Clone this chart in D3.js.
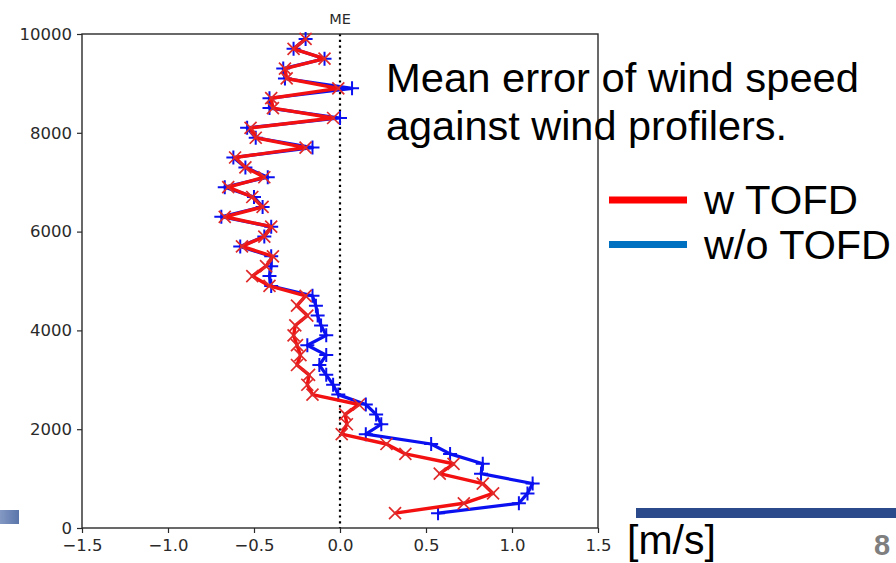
<!DOCTYPE html>
<html>
<head>
<meta charset="utf-8">
<script src="https://cdn.jsdelivr.net/npm/d3@7"></script>
<style>
  body { margin: 0; background: #fff; }
  svg { display: block; }
</style>
</head>
<body>
<svg id="chart" width="896" height="563"></svg>
<script>
// ---- data ----
const heights = [300,500,700,900,1100,1300,1500,1700,1900,2100,2300,2500,2700,2900,3100,3300,3500,3700,3900,4100,4300,4500,4700,4900,5100,5300,5500,5700,5900,6100,6300,6500,6700,6900,7100,7300,7500,7700,7900,8100,8300,8500,8700,8900,9100,9300,9500,9700,9900];
const withTOFD = [0.32,0.72,0.89,0.83,0.58,0.66,0.38,0.27,0.01,0.04,0.03,0.11,-0.16,-0.19,-0.18,-0.25,-0.23,-0.25,-0.27,-0.26,-0.19,-0.25,-0.20,-0.41,-0.51,-0.43,-0.39,-0.57,-0.44,-0.40,-0.67,-0.45,-0.51,-0.65,-0.44,-0.55,-0.61,-0.20,-0.49,-0.52,-0.04,-0.39,-0.40,-0.01,-0.31,-0.32,-0.09,-0.27,-0.20];
const withoutTOFD = [0.57,1.04,1.09,1.12,0.82,0.83,0.64,0.53,0.15,0.24,0.21,0.15,-0.01,-0.04,-0.08,-0.12,-0.08,-0.19,-0.08,-0.11,-0.13,-0.14,-0.16,-0.40,-0.41,-0.40,-0.40,-0.58,-0.44,-0.40,-0.69,-0.45,-0.50,-0.67,-0.42,-0.55,-0.62,-0.16,-0.49,-0.54,0.00,-0.41,-0.41,0.07,-0.32,-0.33,-0.09,-0.27,-0.20];
const xTicks = [-1.5,-1.0,-0.5,0.0,0.5,1.0,1.5];
const yTicks = [0,2000,4000,6000,8000,10000];
const seriesNames = ["w TOFD","w/o TOFD"];
const titleText = "ME";
const noteLines = ["Mean error of wind speed","against wind profilers."];
const unitText = "[m/s]";
const pageNumber = "8";

// ---- layout ----
const svg = d3.select("#chart");
const L = 82, R = 598, T = 34, B = 528;
const x = d3.scaleLinear().domain([-1.5,1.5]).range([L,R]);
const y = d3.scaleLinear().domain([0,10000]).range([B,T]);
const mplFont = "'DejaVu Sans', sans-serif";
const fmtX = d => (d < 0 ? "\u2212" : "") + Math.abs(d).toFixed(1);

// slide decorations
const grad = svg.append("defs").append("linearGradient").attr("id","lg").attr("x1","0").attr("x2","1");
grad.append("stop").attr("offset","0").attr("stop-color","#8499c4");
grad.append("stop").attr("offset","1").attr("stop-color","#5a75aa");
svg.append("rect").attr("x",0).attr("y",510).attr("width",19).attr("height",14).attr("fill","url(#lg)");
svg.append("rect").attr("x",636).attr("y",508).attr("width",260).attr("height",10).attr("fill","#2b4a8c");

// axes
const gx = svg.append("g").attr("transform",`translate(0,${B})`)
  .call(d3.axisBottom(x).tickValues(xTicks).tickFormat(fmtX).tickSizeOuter(0).tickSize(5).tickPadding(4));
const gy = svg.append("g").attr("transform",`translate(${L},0)`)
  .call(d3.axisLeft(y).tickValues(yTicks).tickFormat(d3.format("d")).tickSizeOuter(0).tickSize(5).tickPadding(5));
[gx,gy].forEach(g => {
  g.select(".domain").remove();
  g.selectAll("text").attr("font-family",mplFont).attr("font-size",16.5).attr("fill","#2a2a2a");
  g.selectAll("line").attr("stroke","#2a2a2a").attr("stroke-width",1.2);
});
gx.selectAll("text").attr("dy","0.85em");

// zero line
svg.append("line").attr("x1",x(0)).attr("x2",x(0)).attr("y1",T).attr("y2",B)
  .attr("stroke","#000").attr("stroke-width",2.2).attr("stroke-dasharray","2.2,3.6");

// frame
svg.append("rect").attr("x",L).attr("y",T).attr("width",R-L).attr("height",B-T)
  .attr("fill","none").attr("stroke","#2a2a2a").attr("stroke-width",1.4);

// title
svg.append("text").attr("x",x(0)).attr("y",24).attr("text-anchor","middle")
  .attr("font-family",mplFont).attr("font-size",14.5).attr("fill","#2a2a2a").text(titleText);

const line = d3.line().x(d => x(d[0])).y(d => y(d[1]));
const blueData = withoutTOFD.map((v,i) => [v, heights[i]]);
const redData = withTOFD.map((v,i) => [v, heights[i]]);

// blue: w/o TOFD
svg.append("path").datum(blueData).attr("d",line).attr("fill","none")
  .attr("stroke","#0a10f0").attr("stroke-width",3.2).attr("stroke-linejoin","round");
svg.append("g").selectAll("path").data(blueData).join("path")
  .attr("transform",d => `translate(${x(d[0])},${y(d[1])})`)
  .attr("d","M-7,0H7M0,-7V7").attr("stroke","#0a10f0").attr("stroke-width",2);

// red: w TOFD
svg.append("path").datum(redData).attr("d",line).attr("fill","none")
  .attr("stroke","#f31010").attr("stroke-width",3.4).attr("stroke-linejoin","round");
svg.append("g").selectAll("path").data(redData).join("path")
  .attr("transform",d => `translate(${x(d[0])},${y(d[1])})`)
  .attr("d","M-6,-6L6,6M-6,6L6,-6").attr("stroke","#e02a2a").attr("stroke-width",1.7);

// annotation text
const sans = "'Liberation Sans', Arial, sans-serif";
const noteWidths = [473, 401];
svg.append("g").selectAll("text").data(noteLines).join("text")
  .attr("x",386).attr("y",(d,i) => 92 + i*48)
  .attr("font-family",sans).attr("font-size",40).attr("fill","#000")
  .attr("textLength",(d,i) => noteWidths[i]).attr("lengthAdjust","spacingAndGlyphs")
  .text(d => d);

// legend
const legColors = ["#ff0000","#0070c0"];
const legWidths = [154, 187];
const leg = svg.append("g").selectAll("g").data(seriesNames).join("g")
  .attr("transform",(d,i) => `translate(0,${200 + i*44.5})`);
leg.append("line").attr("x1",609).attr("x2",687).attr("y1",0).attr("y2",0)
  .attr("stroke",(d,i) => legColors[i]).attr("stroke-width",7);
leg.append("text").attr("x",704).attr("y",14).attr("font-family",sans).attr("font-size",40)
  .attr("fill","#000").attr("textLength",(d,i) => legWidths[i]).attr("lengthAdjust","spacingAndGlyphs")
  .text(d => d);

// unit and page number
svg.append("text").attr("x",627).attr("y",554).attr("font-family",sans).attr("font-size",41)
  .attr("fill","#000").text(unitText);
svg.append("text").attr("x",874).attr("y",555).attr("font-family",sans).attr("font-size",29)
  .attr("font-weight","bold").attr("fill","#7f7f7f").text(pageNumber);
</script>
</body>
</html>
